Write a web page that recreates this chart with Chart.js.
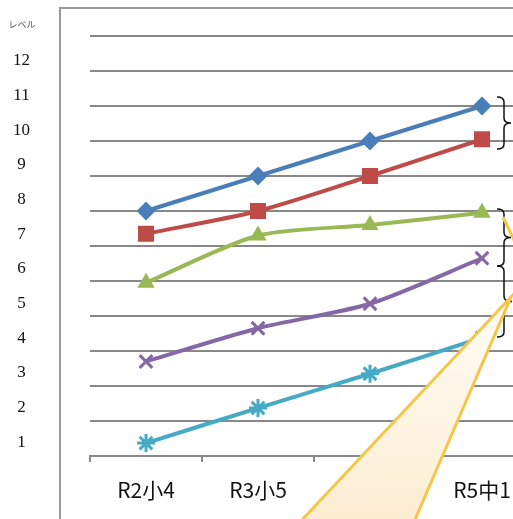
<!DOCTYPE html>
<html>
<head>
<meta charset="utf-8">
<script src="https://cdn.jsdelivr.net/npm/chart.js@4"></script>
<style>
  html, body { margin: 0; padding: 0; background: #fff; }
  #wrap { width: 513px; height: 519px; overflow: hidden; position: relative; }
  canvas { display: block; }
</style>
</head>
<body>
<div id="wrap"><canvas id="chart" width="560" height="519"></canvas></div>
<script>
// categories (x axis)
var years = ['R2小4', 'R3小5', 'R4小6', 'R5中1'];
// level labels on the left
var levelLabels = [1, 2, 3, 4, 5, 6, 7, 8, 9, 10, 11, 12];
var blueVals   = [7, 8, 9, 10];
var redVals    = [6.35, 7, 8, 9.05];
var greenVals  = [4.95, 6.3, 6.6, 6.95];
var purpleVals = [2.7, 3.65, 4.35, 5.65];
var cyanVals   = [0.37, 1.37, 2.35, 3.38];

function series(data, color, style, r, pw) {
    return {
        data: data,
        borderColor: color,
        backgroundColor: color,
        pointBorderColor: color,
        pointBackgroundColor: color,
        borderWidth: 4,
        pointStyle: style,
        pointRadius: r,
        pointBorderWidth: pw,
        tension: 0.25
    };
}

// extra drawing: frame, axis caption, braces, callout
var deco = {
    id: 'deco',
    beforeDraw: function (chart) {
        var c = chart.ctx;
        c.save();
        c.strokeStyle = '#9a9a9a';
        c.lineWidth = 2;
        c.beginPath();
        c.moveTo(60, 519);
        c.lineTo(60, 8);
        c.lineTo(560, 8);
        c.stroke();
        c.fillStyle = '#555';
        c.font = '9px "Noto Sans CJK JP"';
        c.textAlign = 'center';
        c.textBaseline = 'middle';
        c.fillText('レベル', 22, 25);
        c.restore();
    },
    afterDraw: function (chart) {
        var c = chart.ctx;
        c.save();
        // braces
        c.strokeStyle = '#111';
        c.lineWidth = 1.5;
        function brace(x0, xv, xt, top, bot) {
            var mid = (top + bot) / 2, r = 5;
            c.beginPath();
            c.moveTo(x0, top);
            c.quadraticCurveTo(xv, top, xv, top + r);
            c.lineTo(xv, mid - r);
            c.quadraticCurveTo(xv, mid, xt, mid);
            c.quadraticCurveTo(xv, mid, xv, mid + r);
            c.lineTo(xv, bot - r);
            c.quadraticCurveTo(xv, bot, x0, bot);
            c.stroke();
        }
        brace(497, 504, 511, 97, 149);
        brace(497, 504, 511, 209, 266);
        brace(497, 504, 512, 266, 337);
        // callout tail
        var g = c.createLinearGradient(0, 296, 0, 519);
        g.addColorStop(0, '#fffdf6');
        g.addColorStop(1, '#fcedd2');
        c.beginPath();
        c.moveTo(511, 297);
        c.lineTo(300, 522);
        c.lineTo(414, 522);
        c.closePath();
        c.fillStyle = g;
        c.fill();
        c.strokeStyle = '#f6c54c';
        c.lineWidth = 3;
        c.stroke();
        c.beginPath();
        c.moveTo(503, 217);
        c.lineTo(515, 242);
        c.stroke();
        c.restore();
    }
};

var ctx = document.getElementById('chart');
var chart = new Chart(ctx, {
    type: 'line',
    data: {
        labels: years,
        datasets: [
            series(blueVals, '#4a7ebb', 'rectRot', 8, 2),
            series(redVals, '#be4b48', 'rect', 10, 2),
            series(greenVals, '#98b954', 'triangle', 8, 2),
            series(purpleVals, '#8468a6', 'crossRot', 9, 3),
            series(cyanVals, '#46aac5', 'star', 9, 3)
        ]
    },
    options: {
        responsive: false,
        animation: false,
        layout: { padding: { top: 36, right: 22, bottom: 0, left: 0 } },
        plugins: { legend: { display: false }, tooltip: { enabled: false } },
        scales: {
            x: {
                offset: true,
                grid: { offset: true, drawOnChartArea: false, drawTicks: true, tickLength: 6, color: '#888', lineWidth: 2 },
                border: { color: '#888', width: 2 },
                ticks: { color: '#111', padding: 15, font: { family: '"Noto Sans CJK JP"', size: 21 } },
                afterFit: function (s) { s.height = 63; }
            },
            y: {
                position: 'left',
                min: 0,
                max: 12,
                ticks: { display: false, stepSize: 1 },
                grid: { color: '#888', lineWidth: 2, drawTicks: false },
                border: { display: false },
                afterFit: function (s) { s.width = 60; }
            },
            y2: {
                position: 'left',
                weight: 1,
                min: 0.6,
                max: 12.72,
                grid: { display: false, drawTicks: false },
                border: { display: false },
                ticks: { color: '#111', crossAlign: 'center', padding: 0, font: { family: '"Liberation Serif"', size: 17 } },
                afterBuildTicks: function (s) {
                    s.ticks = levelLabels.map(function (v) { return { value: v }; });
                },
                afterFit: function (s) { s.width = 30; }
            }
        }
    },
    plugins: [deco]
});
</script>
</body>
</html>
